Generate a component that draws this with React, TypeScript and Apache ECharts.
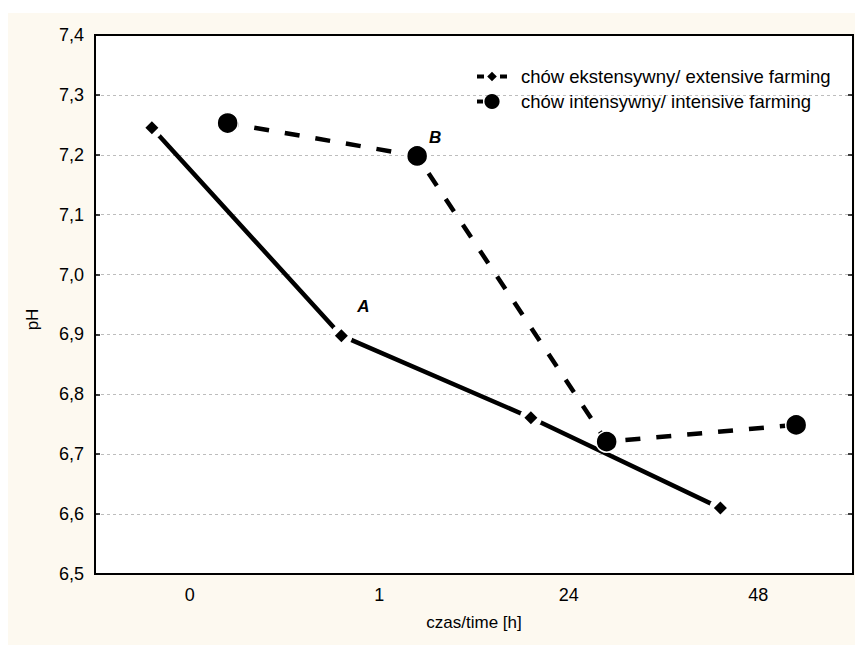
import React, { useEffect, useRef } from 'react';
import * as echarts from 'echarts';

// ---- data ----
const categories = ['0', '1', '24', '48'];
const extensiveValues = [7.245, 6.898, 6.761, 6.61];
const intensiveValues = [7.253, 7.198, 6.721, 6.749];
const extensiveLabels = ['', 'A', '', ''];
const intensiveLabels = ['', 'B', '', ''];
const seriesNames = ['chów ekstensywny/ extensive farming', 'chów intensywny/ intensive farming'];
const xTitle = 'czas/time [h]';
const yTitle = 'pH';
const yMin = 6.5;
const yMax = 7.4;
const yStep = 0.1;
const groupOffset = 0.2; // horizontal shift of each series within a category

const FONT = '"Liberation Sans", Arial, sans-serif';
const CREAM = '#fdf9f0';

const fmtY = (v: number) => v.toFixed(1).replace('.', ',');

export default function App() {
  const ref = useRef<HTMLDivElement>(null);
  useEffect(() => {
    if (!ref.current) return;
    const chart = echarts.init(ref.current, undefined, { renderer: 'svg' });
    const labelStyle = {
      fontFamily: FONT,
      fontSize: 17,
      fontWeight: 'bold' as const,
      fontStyle: 'italic' as const,
      color: '#000',
    };
    const axisLine = { show: true, onZero: false, lineStyle: { color: '#000', width: 2 } };
    const extPoints = extensiveValues.map((v, i) => [i - groupOffset, v]);
    const intPoints = intensiveValues.map((v, i) => [i + groupOffset, v]);
    const option: any = {
      animation: false,
      backgroundColor: CREAM,
      textStyle: { fontFamily: FONT },
      grid: {
        left: 87,
        top: 22,
        width: 758,
        height: 539,
        show: true,
        backgroundColor: '#fff',
        borderColor: '#000',
        borderWidth: 2,
      },
      legend: [
        {
          data: [seriesNames[0]],
          left: 467,
          top: 54,
          padding: 0,
          itemWidth: 30,
          itemHeight: 12,
          textStyle: { fontFamily: FONT, fontSize: 18.5, color: '#000', padding: [0, 0, 0, 9] },
          lineStyle: { type: [7, 16], width: 4 },
          itemStyle: { borderWidth: 0, color: '#000' },
        },
        {
          data: [seriesNames[1]],
          left: 467,
          top: 79,
          padding: 0,
          itemWidth: 30,
          itemHeight: 19,
          textStyle: { fontFamily: FONT, fontSize: 18.5, color: '#000', padding: [0, 0, 0, 9] },
          lineStyle: { type: [10, 40], width: 4 },
          itemStyle: { borderWidth: 0, color: '#000' },
        },
      ],
      xAxis: [
        {
          type: 'category',
          data: categories,
          position: 'bottom',
          boundaryGap: true,
          axisLine,
          axisTick: { inside: true, length: 5, alignWithLabel: true, lineStyle: { color: '#000', width: 1.5 } },
          axisLabel: { color: '#000', fontSize: 18, fontFamily: FONT, margin: 12 },
          splitLine: { show: false },
          name: xTitle,
          nameLocation: 'middle',
          nameGap: 40,
          nameTextStyle: { color: '#000', fontSize: 17, fontFamily: FONT },
        },
        {
          type: 'category',
          data: categories,
          position: 'top',
          boundaryGap: true,
          axisLine,
          axisTick: { inside: true, length: 5, alignWithLabel: true, lineStyle: { color: '#000', width: 1.5 } },
          axisLabel: { show: false },
          splitLine: { show: false },
        },
        {
          type: 'value',
          min: -0.5,
          max: categories.length - 0.5,
          show: false,
        },
      ],
      yAxis: [
        {
          type: 'value',
          min: yMin,
          max: yMax,
          interval: yStep,
          position: 'left',
          axisLine,
          axisTick: { show: true, inside: true, length: 5, lineStyle: { color: '#000', width: 1.5 } },
          axisLabel: { color: '#000', fontSize: 18, fontFamily: FONT, margin: 11, formatter: fmtY },
          splitLine: { show: true, lineStyle: { color: '#bdbdbd', type: [3, 3], width: 1 } },
          name: yTitle,
          nameLocation: 'middle',
          nameGap: 54,
          nameTextStyle: { color: '#000', fontSize: 17, fontFamily: FONT, padding: [0, 30, 0, 0] },
        },
        {
          type: 'value',
          min: yMin,
          max: yMax,
          interval: yStep,
          position: 'right',
          axisLine,
          axisTick: { show: true, inside: true, length: 5, lineStyle: { color: '#000', width: 1.5 } },
          axisLabel: { show: false },
          splitLine: { show: false },
        },
      ],
      series: [
        // extensive farming: solid line
        {
          name: seriesNames[0],
          type: 'line',
          xAxisIndex: 2,
          yAxisIndex: 0,
          symbol: 'diamond',
          showSymbol: false,
          z: 2,
          itemStyle: { color: '#000' },
          lineStyle: { color: '#000', width: 4.5, type: 'solid' },
          data: extPoints,
        },
        // white gap around the diamond markers
        {
          name: 'marker gap',
          type: 'scatter',
          xAxisIndex: 2,
          yAxisIndex: 0,
          symbol: 'circle',
          symbolSize: 22,
          silent: true,
          z: 3,
          itemStyle: { color: '#ffffff', opacity: 1 },
          data: extPoints,
        },
        // diamond markers
        {
          name: 'marker',
          type: 'scatter',
          xAxisIndex: 2,
          yAxisIndex: 0,
          symbol: 'diamond',
          symbolSize: 13,
          z: 4,
          itemStyle: { color: '#000', opacity: 1 },
          data: extPoints.map((p, i) => ({
            value: p,
            label: {
              show: !!extensiveLabels[i],
              formatter: extensiveLabels[i],
              position: 'inside',
              offset: [22, -29],
              ...labelStyle,
            },
          })),
        },
        // intensive farming: dashed line with big circles
        {
          name: seriesNames[1],
          type: 'line',
          xAxisIndex: 2,
          yAxisIndex: 0,
          symbol: 'circle',
          symbolSize: 21,
          z: 5,
          itemStyle: { color: '#000', borderColor: '#fff', borderWidth: 1.5 },
          lineStyle: { color: '#000', width: 4.5, type: [15, 16], dashOffset: 4 },
          data: intPoints.map((p, i) => ({
            value: p,
            label: {
              show: !!intensiveLabels[i],
              formatter: intensiveLabels[i],
              position: 'inside',
              offset: [18, -18],
              ...labelStyle,
            },
          })),
        },
      ],
    };
    chart.setOption(option);
    return () => chart.dispose();
  }, []);
  return (
    <div
      ref={ref}
      style={{ position: 'absolute', left: 8, top: 13, width: 847, height: 632 }}
    />
  );
}
